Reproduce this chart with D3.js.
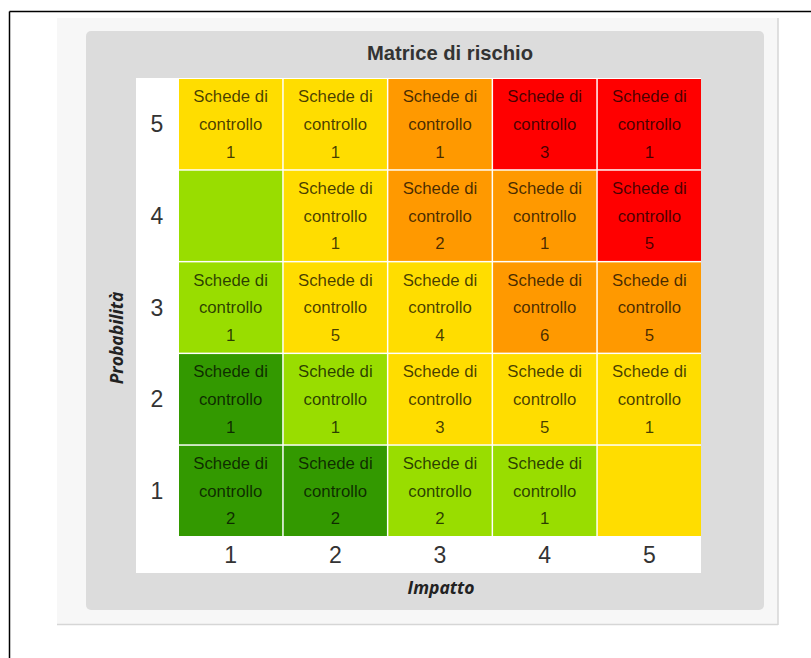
<!DOCTYPE html>
<html>
<head>
<meta charset="utf-8">
<script src="https://cdn.jsdelivr.net/npm/d3@7"></script>
<style>
  html, body { margin: 0; padding: 0; background: #fff; }
  svg { display: block; }
</style>
</head>
<body>
<svg id="chart" width="811" height="658"></svg>
<script>
// ---- Data ----
const title = "Matrice di rischio";
const xLabel = "Impatto";
const yLabel = "Probabilità";
const impactTicks = ["1", "2", "3", "4", "5"];
const probabilityTicks = ["5", "4", "3", "2", "1"]; // top to bottom
const cellLine1 = "Schede di";
const cellLine2 = "controllo";
// counts per row (probability 5..1) and column (impatto 1..5); null = empty cell
const countsP5 = [1, 1, 1, 3, 1];
const countsP4 = [null, 1, 2, 1, 5];
const countsP3 = [1, 5, 4, 6, 5];
const countsP2 = [1, 1, 3, 5, 1];
const countsP1 = [2, 2, 2, 1, null];
// risk level per cell: 0 dark green, 1 light green, 2 yellow, 3 orange, 4 red
const levelP5 = [2, 2, 3, 4, 4];
const levelP4 = [1, 2, 3, 3, 4];
const levelP3 = [1, 2, 2, 3, 3];
const levelP2 = [0, 1, 2, 2, 2];
const levelP1 = [0, 0, 1, 1, 2];
const levelColors = ["#339900", "#99dd00", "#ffdd00", "#ff9900", "#ff0000"];

const countRows = [countsP5, countsP4, countsP3, countsP2, countsP1];
const levelRows = [levelP5, levelP4, levelP3, levelP2, levelP1];
const cells = [];
probabilityTicks.forEach((p, r) => {
  impactTicks.forEach((im, c) => {
    cells.push({ p, im, count: countRows[r][c], level: levelRows[r][c] });
  });
});

// ---- Drawing ----
const svg = d3.select("#chart");

// screenshot frame (black top/left lines)
svg.append("line").attr("x1", 9.5).attr("x2", 811).attr("y1", 11.5).attr("y2", 11.5)
  .attr("stroke", "#000").attr("stroke-width", 1.5);
svg.append("line").attr("x1", 9.5).attr("x2", 9.5).attr("y1", 11.5).attr("y2", 658)
  .attr("stroke", "#000").attr("stroke-width", 1.5);

// light outer panel
svg.append("rect").attr("x", 57).attr("y", 18).attr("width", 721).attr("height", 606)
  .attr("fill", "#f7f7f7");
svg.append("line").attr("x1", 778).attr("x2", 778).attr("y1", 18).attr("y2", 625)
  .attr("stroke", "#d6d6d6").attr("stroke-width", 1.5);
svg.append("line").attr("x1", 57).attr("x2", 778).attr("y1", 624.5).attr("y2", 624.5)
  .attr("stroke", "#d6d6d6").attr("stroke-width", 1.5);

// grey chart panel
svg.append("rect").attr("x", 86).attr("y", 31).attr("width", 678).attr("height", 579)
  .attr("rx", 5).attr("fill", "#dcdcdc");

// white plot area
svg.append("rect").attr("x", 136).attr("y", 78).attr("width", 565).attr("height", 495)
  .attr("fill", "#ffffff");

const x = d3.scaleBand().domain(impactTicks).range([179, 701]).paddingInner(0.014).paddingOuter(0);
const y = d3.scaleBand().domain(probabilityTicks).range([79, 536]).paddingInner(0.016).paddingOuter(0);

// cells
const g = svg.append("g");
g.selectAll("rect.cell").data(cells).join("rect")
  .attr("class", "cell")
  .attr("x", d => x(d.im))
  .attr("y", d => y(d.p))
  .attr("width", x.bandwidth())
  .attr("height", y.bandwidth())
  .attr("fill", d => levelColors[d.level]);

const labelled = cells.filter(d => d.count !== null);
const texts = g.selectAll("text.cell").data(labelled).join("text")
  .attr("class", "cell")
  .attr("text-anchor", "middle")
  .attr("font-family", "'Liberation Sans', Arial, sans-serif")
  .attr("font-size", 16.8)
  .attr("fill", "#000")
  .attr("fill-opacity", 0.72);
texts.each(function(d) {
  const cx = x(d.im) + x.bandwidth() / 2;
  const cy = y(d.p) + y.bandwidth() / 2;
  const t = d3.select(this);
  [cellLine1, cellLine2, String(d.count)].forEach((s, i) => {
    t.append("tspan").attr("x", cx).attr("y", cy + (i - 1) * 27.7).attr("dy", "0.35em").text(s);
  });
});

// axes tick labels
svg.append("g").selectAll("text").data(probabilityTicks).join("text")
  .attr("x", 157)
  .attr("y", d => y(d) + y.bandwidth() / 2)
  .attr("dy", "0.36em")
  .attr("text-anchor", "middle")
  .attr("font-family", "'Liberation Sans', Arial, sans-serif")
  .attr("font-size", 23)
  .attr("fill", "#333")
  .text(d => d);

svg.append("g").selectAll("text").data(impactTicks).join("text")
  .attr("x", d => x(d) + x.bandwidth() / 2)
  .attr("y", 555)
  .attr("dy", "0.36em")
  .attr("text-anchor", "middle")
  .attr("font-family", "'Liberation Sans', Arial, sans-serif")
  .attr("font-size", 23)
  .attr("fill", "#333")
  .text(d => d);

// title
svg.append("text").attr("x", 450).attr("y", 53).attr("dy", "0.35em")
  .attr("text-anchor", "middle")
  .attr("font-family", "'Liberation Sans', Arial, sans-serif")
  .attr("font-weight", "bold").attr("font-size", 20.2).attr("fill", "#333")
  .text(title);

// axis titles
svg.append("text").attr("x", 441).attr("y", 588).attr("dy", "0.35em")
  .attr("text-anchor", "middle")
  .attr("font-family", "'Open Sans', sans-serif")
  .attr("font-weight", "bold").attr("font-style", "italic")
  .attr("font-size", 17.5).attr("fill", "#222")
  .text(xLabel);

svg.append("text")
  .attr("transform", "translate(117,338) rotate(-90)")
  .attr("dy", "0.35em")
  .attr("text-anchor", "middle")
  .attr("font-family", "'Open Sans', sans-serif")
  .attr("font-weight", "bold").attr("font-style", "italic")
  .attr("font-size", 17.5).attr("fill", "#222")
  .text(yLabel);
</script>
</body>
</html>
